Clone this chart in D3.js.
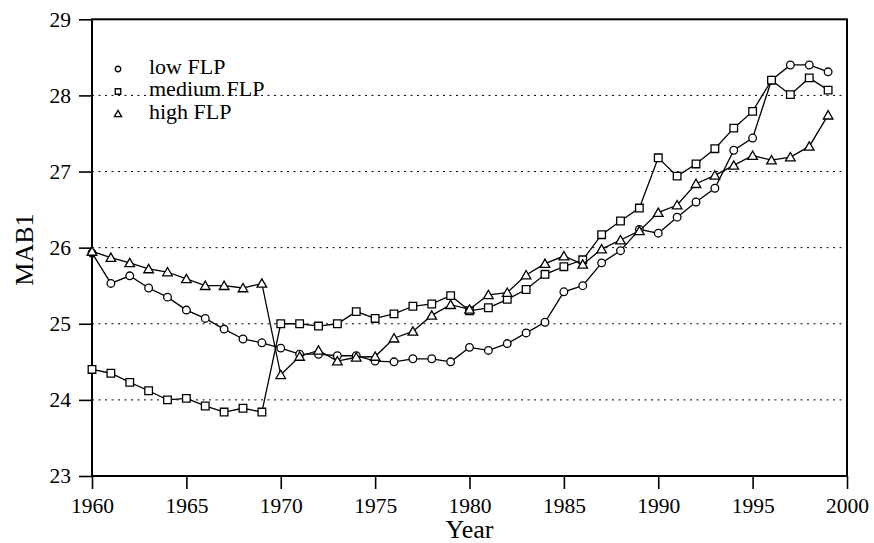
<!DOCTYPE html>
<html><head><meta charset="utf-8">
<script src="https://cdn.jsdelivr.net/npm/d3@7"></script>
<style>body{margin:0;background:#fff}svg{display:block}text{font-family:"Liberation Serif","Times New Roman",serif;fill:#000}</style>
</head><body><svg id="c" width="874" height="543"></svg>
<script>
const years = d3.range(1960, 2000);
const lowFLP = [25.93,25.53,25.63,25.47,25.35,25.18,25.07,24.93,24.80,24.75,
  24.68,24.60,24.60,24.58,24.58,24.51,24.50,24.54,24.54,24.50,
  24.69,24.65,24.74,24.88,25.02,25.42,25.50,25.80,25.96,26.24,
  26.19,26.40,26.60,26.78,27.28,27.44,28.20,28.40,28.40,28.31];
const mediumFLP = [24.40,24.35,24.23,24.12,24.00,24.02,23.92,23.84,23.89,23.84,
  25.00,25.00,24.97,25.00,25.16,25.07,25.13,25.23,25.26,25.37,
  25.17,25.21,25.32,25.45,25.65,25.75,25.84,26.17,26.35,26.52,
  27.18,26.94,27.10,27.30,27.57,27.79,28.20,28.01,28.23,28.07];
const highFLP = [25.95,25.87,25.80,25.72,25.68,25.59,25.50,25.50,25.47,25.53,
  24.33,24.57,24.65,24.51,24.56,24.57,24.81,24.90,25.11,25.25,
  25.19,25.38,25.41,25.64,25.79,25.89,25.78,25.98,26.10,26.22,
  26.46,26.56,26.84,26.95,27.08,27.21,27.15,27.19,27.33,27.74];
const seriesNames = ["low FLP","medium FLP","high FLP"];
const xTicks = [1960,1965,1970,1975,1980,1985,1990,1995,2000];
const yTicks = [23,24,25,26,27,28,29];
const gridTicks = [24,25,26,27,28];

const svg = d3.select("#c");
const L=92, R=847, T=19.3, B=476;
const x = d3.scaleLinear().domain([1960,2000]).range([L,R]);
const y = d3.scaleLinear().domain([23,29]).range([B,T]);

// grid
svg.append("g").selectAll("line").data(gridTicks).join("line")
  .attr("x1",L).attr("x2",R).attr("y1",d=>y(d)).attr("y2",d=>y(d))
  .attr("stroke","#000").attr("stroke-width",1).attr("stroke-dasharray","2,4.5");

// axes
const xa = svg.append("g").attr("transform",`translate(0,${B})`)
  .call(d3.axisBottom(x).tickValues(xTicks).tickFormat(d3.format("d")).tickSize(13).tickPadding(9));
const ya = svg.append("g").attr("transform",`translate(${L},0)`)
  .call(d3.axisLeft(y).tickValues(yTicks).tickFormat(d3.format("d")).tickSize(13).tickPadding(8));
[xa,ya].forEach(a=>{
  a.attr("font-family",'"Liberation Serif",serif').attr("font-size",21.5);
  a.select(".domain").remove();
  a.selectAll("line").attr("stroke","#000").attr("stroke-width",1.6);
  a.selectAll("text").attr("fill","#000");
});
// frame
svg.append("rect").attr("x",L).attr("y",T).attr("width",R-L).attr("height",B-T)
  .attr("fill","none").attr("stroke","#000").attr("stroke-width",2);

// titles
svg.append("text").attr("x",(L+R)/2).attr("y",538).attr("text-anchor","middle")
  .style("font-size","26px").text("Year");
svg.append("text").attr("transform","translate(33,249.5) rotate(-90)").attr("text-anchor","middle")
  .style("font-size","26px").text("MAB1");

const datasets = [lowFLP, mediumFLP, highFLP];
const shapes = [d3.symbolCircle, d3.symbolSquare, d3.symbolTriangle];
const sizes = [46, 58, 40];
const legSizes = [24, 30, 22];
const line = d3.line().x((d,i)=>x(years[i])).y(d=>y(d));

datasets.forEach((data,k)=>{
  const g = svg.append("g");
  g.append("path").attr("d",line(data)).attr("fill","none").attr("stroke","#000").attr("stroke-width",1.3);
  g.selectAll("path.m").data(data).join("path").attr("class","m")
    .attr("transform",(d,i)=>`translate(${x(years[i])},${y(d)+(k===2?1:0)})`)
    .attr("d",d3.symbol().type(shapes[k]).size(sizes[k]))
    .attr("fill","#fff").attr("stroke","#000").attr("stroke-width",1.3);
});

// legend
const leg = svg.append("g");
seriesNames.forEach((name,k)=>{
  const cy = 69 + k*22.5;
  leg.append("path").attr("transform",`translate(118,${cy+(k===2?0.5:0)})`)
    .attr("d",d3.symbol().type(shapes[k]).size(legSizes[k]))
    .attr("fill","#fff").attr("stroke","#000").attr("stroke-width",1.3);
  leg.append("text").attr("x",149).attr("y",cy+4.5).style("font-size","22px").text(name);
});
</script></body></html>
